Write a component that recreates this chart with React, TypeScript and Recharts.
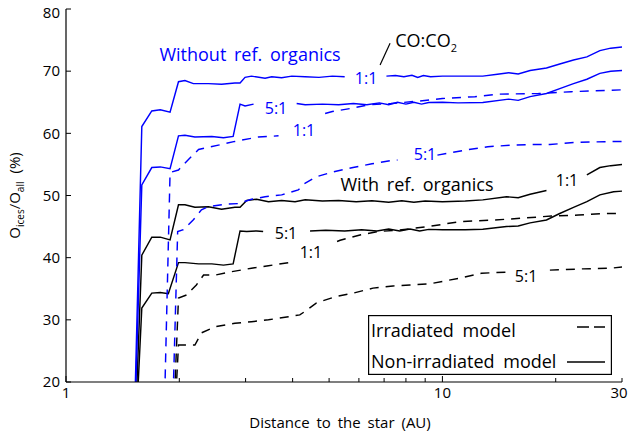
import React from 'react';
import { LineChart, Line, XAxis, YAxis, ReferenceDot, ReferenceLine, Legend } from 'recharts';

type Pt = [number, number | null];

// Fraction of oxygen locked in ices, O_ices / O_all (%), versus distance to the star (AU).
// A null value leaves a break in the curve where its ratio label sits.

// Without refractory organics
const noOrgPlain11: Pt[] = [
  [1.5, 0], [1.59, 61.1], [1.69, 63.6], [1.78, 63.8], [1.89, 63.4], [1.99, 68.3], [2.07, 68.5],
  [2.18, 68.0], [2.39, 68.0], [2.59, 67.9], [2.81, 68.1], [2.9, 68.1], [2.99, 69.0], [3.11, 69.2],
  [3.38, 68.85], [3.52, 69.1], [3.74, 68.95], [3.98, 69.2], [4.32, 69.1], [4.7, 69.0], [5.1, 69.2],
  [5.5, 69.1], [6.3, null], [7.1, 69.2], [7.5, 69.3], [7.9, 69.1], [8.3, 69.35], [8.6, 69.0],
  [8.9, 69.3], [9.3, 69.1], [10, 69.2], [11, 69.2], [12.8, 69.2], [14.0, 69.5], [15.0, 69.75],
  [15.9, 69.55], [17.1, 70.1], [18.9, 70.5], [20.5, 71.15], [22.3, 71.8], [24.2, 72.3],
  [26.2, 73.3], [28, 73.7], [30, 73.9],
];
const noOrgPlain51: Pt[] = [
  [1.5, 0], [1.59, 51.7], [1.69, 54.5], [1.78, 54.6], [1.89, 54.3], [1.99, 59.6], [2.07, 59.7],
  [2.2, 59.4], [2.44, 59.5], [2.62, 59.3], [2.78, 59.5], [2.9, 64.7], [2.99, 64.4], [3.15, 64.7],
  [3.6, null], [4.1, 64.8], [4.32, 64.6], [4.8, 64.7], [5.3, 64.6], [5.8, 64.8], [6.3, 64.6],
  [6.8, 64.9], [7.2, 64.6], [7.6, 65.0], [8.0, 64.7], [8.4, 65.0], [8.8, 64.7], [9.2, 64.95],
  [10, 65.0], [11, 64.9], [12.8, 64.95], [15.0, 65.5], [15.9, 65.3], [17.1, 65.9], [18.9, 66.4],
  [20.5, 67.2], [22.3, 68.0], [24.2, 68.7], [26.2, 69.65], [28, 70.0], [30, 70.1],
];
const noOrgIrr11: Pt[] = [
  [1.8, 0], [1.89, 53.7], [1.99, 54.1], [2.1, 55.6], [2.25, 57.4], [2.54, 58.1], [2.81, 58.7],
  [3.24, 59.4], [3.67, 59.6], [4.3, null], [4.88, 63.2], [5.1, 63.5], [5.7, 64.0], [6.4, 64.6],
  [7.3, 64.8], [8.7, 65.2], [10, 65.6], [12.2, 65.9], [14, 66.3], [18, 66.4], [22, 66.7], [30, 67.0],
];
const noOrgIrr51: Pt[] = [
  [1.89, 0], [1.98, 44.2], [2.05, 44.5], [2.18, 46.1], [2.29, 47.7], [2.39, 48.2], [2.65, 48.6],
  [2.87, 48.7], [3.11, 49.4], [3.38, 49.8], [3.74, 50.1], [4.14, 50.9], [4.3, 51.9], [4.62, 53.0],
  [5.12, 53.8], [5.79, 54.5], [6.5, 55.1], [7.26, 55.6], [7.6, 55.7], [8.7, null], [9.7, 56.5],
  [11.5, 57.3], [13.2, 57.85], [15.1, 58.07], [17.1, 58.2], [19.3, 58.2], [22.5, 58.55],
  [27, 58.66], [30, 58.7],
];

// With refractory organics
const orgPlain11: Pt[] = [
  [1.5, 0], [1.59, 40.4], [1.69, 43.3], [1.78, 43.3], [1.89, 42.85], [1.99, 48.5], [2.07, 48.5],
  [2.2, 48.1], [2.39, 48.2], [2.59, 47.8], [2.81, 48.1], [2.9, 48.1], [3.02, 49.2], [3.21, 49.4],
  [3.45, 49.0], [3.74, 49.2], [4.06, 49.0], [4.32, 49.3], [4.8, 49.1], [5.3, 49.2], [5.9, 49.0],
  [6.5, 49.15], [7.2, 48.9], [7.8, 49.15], [8.4, 48.9], [9, 49.1], [10, 49.0], [11.5, 49.1],
  [12.8, 49.3], [14.8, 49.8], [15.9, 49.65], [17.1, 50.2], [18.9, 50.8], [21.4, null],
  [24.2, 53.3], [26.2, 54.5], [28, 54.8], [30, 55.0],
];
const orgPlain51: Pt[] = [
  [1.5, 0], [1.59, 31.9], [1.69, 34.3], [1.78, 34.4], [1.87, 34.2], [1.99, 39.2], [2.07, 39.2],
  [2.25, 39.0], [2.44, 39.0], [2.62, 38.8], [2.78, 39.0], [2.9, 44.3], [3.02, 44.2], [3.21, 44.3],
  [3.34, 44.2], [3.9, null], [4.45, 44.3], [4.9, 44.4], [5.5, 44.3], [6.1, 44.5], [6.7, 44.3],
  [7.2, 44.6], [7.7, 44.3], [8.2, 44.6], [8.7, 44.3], [9.2, 44.55], [10, 44.5], [11.5, 44.5],
  [12.8, 44.56], [14.8, 45.0], [15.9, 45.1], [17.1, 45.6], [18.9, 46.06], [20.5, 47.1],
  [22.3, 48.1], [24.2, 49.0], [26.2, 50.1], [28.5, 50.6], [30, 50.7],
];
const orgIrr11: Pt[] = [
  [1.89, 0], [1.99, 33.5], [2.09, 34.0], [2.22, 35.6], [2.32, 37.2], [2.49, 37.2], [2.76, 37.75],
  [3.11, 38.3], [3.45, 38.7], [3.9, 39.2], [4.06, 39.35], [4.6, null], [5.25, 42.6], [5.35, 42.8],
  [6.04, 43.65], [6.74, 44.2], [7.7, 44.45], [9.16, 45.0], [11.14, 45.8], [13.8, 46.06],
  [16.1, 46.33], [19.5, 46.7], [23, 46.86], [27, 47.1], [30, 47.1],
];
const orgIrr51: Pt[] = [
  [1.89, 0], [1.99, 25.95], [2.2, 25.95], [2.29, 27.9], [2.49, 28.9], [2.81, 29.45], [3.11, 29.7],
  [3.45, 30.0], [3.9, 30.5], [4.18, 30.8], [4.35, 31.5], [4.62, 32.7], [5.18, 33.7], [5.8, 34.3],
  [6.54, 35.1], [7.39, 35.45], [8.2, 35.6], [9.27, 35.8], [11.1, 36.7], [12.7, 37.5], [15.1, 37.7],
  [17, null], [19.3, 38.0], [23.6, 38.2], [27.9, 38.3], [30, 38.5],
];

const xTicks = [1, 2, 3, 4, 5, 6, 7, 8, 9, 10, 20, 30];
const xTickLabels = [1, 10, 30];
const yTicks = [20, 30, 40, 50, 60, 70, 80];

// Curve labels, placed in data units (AU, %)
const annotations = [
  { text: 'Without ref. organics', au: 3.083, pct: 72.6, group: 'noOrg', kind: 'title' },
  { text: 'With ref. organics', au: 8.56, pct: 51.69, group: 'org', kind: 'title' },
  { text: '1:1', au: 6.27, pct: 68.9, group: 'noOrg', kind: 'ratio' },
  { text: '5:1', au: 3.614, pct: 64.08, group: 'noOrg', kind: 'ratio' },
  { text: '1:1', au: 4.289, pct: 60.54, group: 'noOrg', kind: 'ratio' },
  { text: '5:1', au: 8.99, pct: 56.68, group: 'noOrg', kind: 'ratio' },
  { text: '1:1', au: 21.43, pct: 52.5, group: 'org', kind: 'ratio' },
  { text: '5:1', au: 3.841, pct: 43.97, group: 'org', kind: 'ratio' },
  { text: '1:1', au: 4.474, pct: 40.91, group: 'org', kind: 'ratio' },
  { text: '5:1', au: 16.68, pct: 37.05, group: 'org', kind: 'ratio' },
];
const ratioHeading = { au: 9.05, pct: 75.0 };
const ratioLeader = [{ au: 6.83, pct: 71.0 }, { au: 7.26, pct: 74.5 }];

const legendItems = [
  { label: 'Irradiated model', dashed: true },
  { label: 'Non-irradiated model', dashed: false },
];

const FONT = '"Open Sans", sans-serif';
const BLUE = '#0000ff';
const BLACK = '#000000';
const groupColor: Record<string, string> = { noOrg: BLUE, org: BLACK };
const kindSize: Record<string, number> = { title: 18, ratio: 16 };

const series = [
  { key: 'orgIrr51', pts: orgIrr51, group: 'org', dashed: true },
  { key: 'orgIrr11', pts: orgIrr11, group: 'org', dashed: true },
  { key: 'orgPlain51', pts: orgPlain51, group: 'org', dashed: false },
  { key: 'orgPlain11', pts: orgPlain11, group: 'org', dashed: false },
  { key: 'noOrgIrr51', pts: noOrgIrr51, group: 'noOrg', dashed: true },
  { key: 'noOrgIrr11', pts: noOrgIrr11, group: 'noOrg', dashed: true },
  { key: 'noOrgPlain51', pts: noOrgPlain51, group: 'noOrg', dashed: false },
  { key: 'noOrgPlain11', pts: noOrgPlain11, group: 'noOrg', dashed: false },
];

const toRows = (pts: Pt[]) => pts.map(([au, pct]) => ({ au, pct }));

const W = 629;
const H = 434;
const FRAME = { stroke: BLACK, strokeWidth: 1.2 };

const BottomTick = (props: any) => {
  const { x, y, payload } = props;
  const v = payload.value;
  const major = v === 1 || v === 10;
  return (
    <g>
      <line x1={x} x2={x} y1={y} y2={y - (major ? 6 : 4)} stroke={BLACK} strokeWidth={1} />
      {xTickLabels.includes(v) && (
        <text x={v === 30 ? x - 3 : x} y={y + 16} textAnchor="middle" fontSize={15} fontFamily={FONT} fill={BLACK}>
          {v}
        </text>
      )}
    </g>
  );
};

const TopTick = (props: any) => {
  const { x, y, payload } = props;
  const major = payload.value === 1 || payload.value === 10;
  return <line x1={x} x2={x} y1={y} y2={y + (major ? 6 : 4)} stroke={BLACK} strokeWidth={1} />;
};

const LeftTick = (props: any) => {
  const { x, y, payload } = props;
  // the top label is nudged down so it stays inside the figure
  const shift = payload.value === 80 ? 4 : 0;
  return (
    <g>
      <line x1={x} x2={x + 5} y1={y} y2={y} stroke={BLACK} strokeWidth={1} />
      <text x={x - 6} y={y + 5.3 + shift} textAnchor="end" fontSize={15} fontFamily={FONT} fill={BLACK}>
        {payload.value}
      </text>
    </g>
  );
};

const RightTick = (props: any) => {
  const { x, y } = props;
  return <line x1={x} x2={x - 5} y1={y} y2={y} stroke={BLACK} strokeWidth={1} />;
};

const YTitle = (props: any) => {
  const vb = props.viewBox ?? { x: 16, y: 9, width: 50, height: 373 };
  const cx = vb.x - 1;
  const cy = vb.y + vb.height / 2;
  return (
    <text
      x={cx}
      y={cy}
      dy="0.36em"
      transform={`rotate(-90 ${cx} ${cy})`}
      textAnchor="middle"
      fontSize={15}
      fontFamily={FONT}
      fill={BLACK}
    >
      O<tspan dy={4} fontSize={10}>ices</tspan>
      <tspan dy={-4}>/O</tspan>
      <tspan dy={4} fontSize={10}>all</tspan>
      <tspan dy={-4} dx={8}>(%)</tspan>
    </text>
  );
};

const XTitle = (props: any) => {
  const vb = props.viewBox ?? { x: 66, y: 382, width: 556, height: 50 };
  return (
    <text x={vb.x + vb.width / 2 - 4} y={vb.y + 46} textAnchor="middle" fontSize={15} fontFamily={FONT} fill={BLACK} style={{ wordSpacing: 3 }}>
      Distance to the star (AU)
    </text>
  );
};

const LegendBox = () => {
  const baselines = [21.5, 53];
  const sampleY = [12, 47];
  return (
    <svg width={244} height={60} style={{ display: 'block' }}>
      <rect x={0.6} y={0.6} width={242.8} height={58.8} fill="#fff" stroke={BLACK} strokeWidth={1.2} />
      {legendItems.map((it, i) => (
        <g key={it.label}>
          <text x={3} y={baselines[i]} fontSize={18} fontFamily={FONT} fill={BLACK} style={{ wordSpacing: 4 }}>
            {it.label}
          </text>
          <line
            x1={it.dashed ? 209 : 199}
            x2={237}
            y1={sampleY[i]}
            y2={sampleY[i]}
            stroke={BLACK}
            strokeWidth={1.4}
            strokeDasharray={it.dashed ? '12 5' : undefined}
          />
        </g>
      ))}
    </svg>
  );
};

export default function App() {
  return (
    <div style={{ position: 'absolute', left: 0, top: 0, width: W, height: H, background: '#fff' }}>
      <LineChart width={W} height={H} margin={{ top: 9, right: 7, bottom: 2, left: 16 }}>
        <XAxis
          xAxisId={0}
          dataKey="au"
          type="number"
          scale="log"
          domain={[1, 30]}
          allowDataOverflow
          ticks={xTicks}
          interval={0}
          height={50}
          tickSize={0}
          tickMargin={0}
          tickLine={false}
          axisLine={FRAME}
          tick={BottomTick}
          label={XTitle}
        />
        <XAxis
          xAxisId="top"
          orientation="top"
          dataKey="au"
          type="number"
          scale="log"
          domain={[1, 30]}
          allowDataOverflow
          ticks={xTicks}
          interval={0}
          height={0}
          tickSize={0}
          tickMargin={0}
          tickLine={false}
          axisLine={FRAME}
          tick={TopTick}
        />
        <YAxis
          yAxisId={0}
          type="number"
          domain={[20, 80]}
          allowDataOverflow
          ticks={yTicks}
          interval={0}
          width={50}
          tickSize={0}
          tickMargin={0}
          tickLine={false}
          axisLine={FRAME}
          tick={LeftTick}
          label={YTitle}
        />
        <YAxis
          yAxisId="right"
          orientation="right"
          type="number"
          domain={[20, 80]}
          allowDataOverflow
          ticks={yTicks}
          interval={0}
          width={0}
          tickSize={0}
          tickMargin={0}
          tickLine={false}
          axisLine={FRAME}
          tick={RightTick}
        />
        {series.map((s) => (
          <Line
            key={s.key}
            data={toRows(s.pts)}
            dataKey="pct"
            name={s.key}
            type="linear"
            stroke={groupColor[s.group]}
            strokeWidth={1.45}
            strokeDasharray={s.dashed ? '9 7' : undefined}
            dot={false}
            activeDot={false}
            connectNulls={false}
            isAnimationActive={false}
          />
        ))}
        {annotations.map((a, i) => (
          <ReferenceDot
            key={`a${i}`}
            x={a.au}
            y={a.pct}
            r={0}
            fill="none"
            stroke="none"
            shape={(p: any) => (
              <text
                x={p.cx}
                y={p.cy}
                dy="0.36em"
                textAnchor="middle"
                fontSize={kindSize[a.kind]}
                fontFamily={FONT}
                fill={groupColor[a.group]}
                style={{ wordSpacing: a.kind === 'title' ? 3 : 0 }}
              >
                {a.text}
              </text>
            )}
          />
        ))}
        <ReferenceDot
          x={ratioHeading.au}
          y={ratioHeading.pct}
          r={0}
          fill="none"
          stroke="none"
          shape={(p: any) => (
            <text x={p.cx} y={p.cy} dy="0.36em" textAnchor="middle" fontSize={18} fontFamily={FONT} fill={BLACK}>
              CO:CO<tspan dy={5} fontSize={11}>2</tspan>
            </text>
          )}
        />
        <ReferenceLine
          segment={[
            { x: ratioLeader[0].au, y: ratioLeader[0].pct },
            { x: ratioLeader[1].au, y: ratioLeader[1].pct },
          ]}
          stroke={BLACK}
          strokeWidth={1.2}
        />
        <Legend
          layout="vertical"
          align="center"
          verticalAlign="middle"
          wrapperStyle={{ left: 368, top: 315, width: 244, height: 60 }}
          content={() => <LegendBox />}
        />
      </LineChart>
    </div>
  );
}
